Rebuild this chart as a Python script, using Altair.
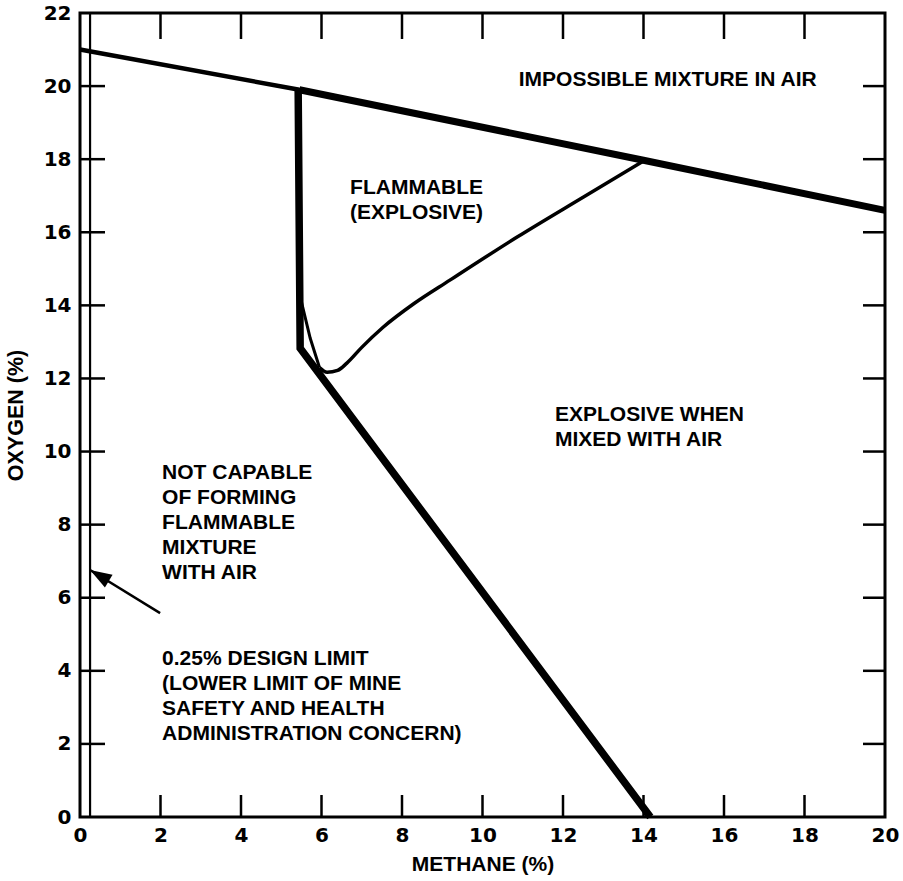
import altair as alt
import pandas as pd

# Oxygen (%) vs methane (%) flammability diagram

# Air line: composition of methane/air mixtures
air_x = [0.0, 5.45]
air_y = [21.0, 19.9]
air_heavy_x = [5.45, 14.0, 20.0]
air_heavy_y = [19.9, 17.97, 16.6]

# Boundary of "capable of forming a flammable mixture with air"
limit_x = [5.42, 5.47, 14.17]
limit_y = [19.95, 12.83, 0.0]

# Nose of the flammable region
nose_x = [5.5, 5.72, 5.95]
nose_y = [14.1, 13.1, 12.3]

# Upper flammable limit curve
upper_x = [5.95, 6.14, 6.4, 6.63, 7.0, 7.53, 8.3, 9.19, 10.86, 12.5, 14.0]
upper_y = [12.3, 12.17, 12.22, 12.42, 12.85, 13.40, 14.05, 14.69, 15.87, 16.96, 17.95]

# 0.25 % methane design limit
design_x = [0.25, 0.25]
design_y = [0.0, 22.0]

# Arrow from the design-limit note to the limit line
arrow_x = [1.99, 0.25]
arrow_y = [5.58, 6.76]

# Axis ticks
x_labels = list(range(0, 21, 2))
y_labels = list(range(0, 23, 2))
x_inner_ticks = list(range(2, 20, 2))
y_inner_ticks = list(range(2, 22, 2))

# Region notes
note_text = [
    "IMPOSSIBLE MIXTURE IN AIR",
    "FLAMMABLE\n(EXPLOSIVE)",
    "EXPLOSIVE WHEN\nMIXED WITH AIR",
    "NOT CAPABLE\nOF FORMING\nFLAMMABLE\nMIXTURE\nWITH AIR",
    "0.25% DESIGN LIMIT\n(LOWER LIMIT OF MINE\nSAFETY AND HEALTH\nADMINISTRATION CONCERN)",
]
note_x = [10.9, 6.71, 11.8, 2.04, 2.04]
note_y = [20.18, 17.22, 11.01, 9.41, 4.31]

W, H = 805, 804
TXT = "Liberation Sans"
NUM = "DejaVu Sans"

xs = alt.Scale(domain=[0, 20], nice=False, zero=False)
ys = alt.Scale(domain=[0, 22], nice=False, zero=False)

x_axis = alt.Axis(
    values=x_labels, ticks=False, domain=False, grid=False,
    labelFont=NUM, labelFontWeight="bold", labelFontSize=20, labelColor="black",
    labelPadding=8, labelFlush=False, labelOverlap=False, format="d",
    title="METHANE (%)", titleFont=TXT, titleFontSize=21, titleFontWeight="bold",
    titleColor="black", titlePadding=8,
)
y_axis = alt.Axis(
    values=y_labels, ticks=False, domain=False, grid=False,
    labelFont=NUM, labelFontWeight="bold", labelFontSize=20, labelColor="black",
    labelPadding=9, labelFlush=False, labelOverlap=False, format="d",
    title="OXYGEN (%)", titleFont=TXT, titleFontSize=21.5, titleFontWeight="bold",
    titleColor="black", titlePadding=16,
)

X = dict(field="x", type="quantitative", scale=xs, axis=x_axis)
Y = dict(field="y", type="quantitative", scale=ys, axis=y_axis)


def curve(xv, yv, width, interp="linear"):
    df = pd.DataFrame({"x": xv, "y": yv, "i": range(len(xv))})
    return alt.Chart(df).mark_line(
        color="black", strokeWidth=width, interpolate=interp, strokeJoin="miter"
    ).encode(x=alt.X(**X), y=alt.Y(**Y), order="i:Q")


design = curve(design_x, design_y, 2.2)
air = curve(air_x, air_y, 4.5)
air_heavy = curve(air_heavy_x, air_heavy_y, 7)
limit = curve(limit_x, limit_y, 7.5)
nose = curve(nose_x, nose_y, 3)
upper = curve(upper_x, upper_y, 3.5, interp="monotone")
arrow_line = curve(arrow_x, arrow_y, 2.5)

arrow_head = alt.Chart(
    pd.DataFrame({"x": arrow_x[1:], "y": arrow_y[1:]})
).mark_point(
    shape="M0,0L-0.34,1L0.34,1Z", filled=True, color="black", opacity=1,
    size=1900, angle=301,
).encode(x=alt.X(**X), y=alt.Y(**Y))

# Inward ticks on all four sides
xt = pd.DataFrame({"x": x_inner_ticks})
yt = pd.DataFrame({"y": y_inner_ticks})
tick_style = dict(color="black", strokeWidth=2.5)
bottom_ticks = alt.Chart(xt).mark_rule(**tick_style).encode(
    x=alt.X(**X), y=alt.value(H), y2=alt.value(H - 22)
)
top_ticks = alt.Chart(xt).mark_rule(**tick_style).encode(
    x=alt.X(**X), y=alt.value(0), y2=alt.value(26)
)
left_ticks = alt.Chart(yt).mark_rule(**tick_style).encode(
    y=alt.Y(**Y), x=alt.value(0), x2=alt.value(25)
)
right_ticks = alt.Chart(yt).mark_rule(**tick_style).encode(
    y=alt.Y(**Y), x=alt.value(W), x2=alt.value(W - 22)
)

notes = alt.Chart(
    pd.DataFrame({"x": note_x, "y": note_y, "t": note_text})
).mark_text(
    align="left", baseline="middle", lineBreak="\n", lineHeight=25,
    font=TXT, fontWeight="bold", fontSize=21, color="black",
).encode(x=alt.X(**X), y=alt.Y(**Y), text="t:N")

chart = alt.layer(
    design, air, air_heavy, limit, nose, upper, arrow_line, arrow_head,
    bottom_ticks, top_ticks, left_ticks, right_ticks, notes,
).properties(
    width=W, height=H,
    padding={"left": 80, "top": 13, "right": 18, "bottom": 64},
    autosize=alt.AutoSizeParams(type="none"),
    background="white",
).configure_view(
    stroke="black", strokeWidth=3,
)

chart.save("out.html", embed_options={"renderer": "svg", "actions": False})
